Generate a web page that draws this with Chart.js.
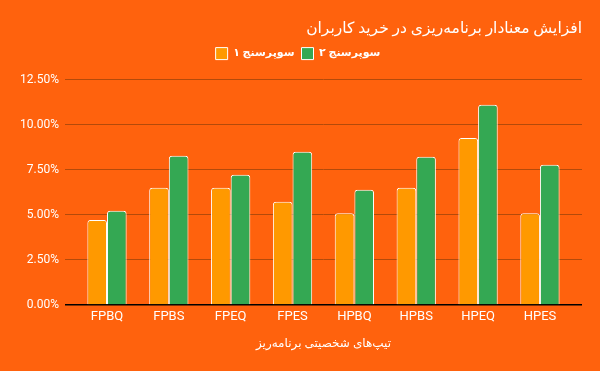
<!DOCTYPE html>
<html>
<head>
<meta charset="utf-8">
<script src="https://cdn.jsdelivr.net/npm/chart.js@4/dist/chart.umd.min.js"></script>
<style>
  html, body { margin: 0; padding: 0; background: #ff620d; }
  #wrap { width: 600px; height: 371px; }
</style>
</head>
<body>
<div id="wrap"><canvas id="chart"></canvas></div>
<script>
/* ── DATA ─────────────────────────────────────────────── */
const categories = ['FPBQ','FPBS','FPEQ','FPES','HPBQ','HPBS','HPEQ','HPES'];
const survey1    = [4.72, 6.50, 6.50, 5.72, 5.09, 6.50, 9.26, 5.09];
const survey2    = [5.22, 8.28, 7.22, 8.50, 6.39, 8.22, 11.11, 7.78];
const seriesNames = ['سوپرسنج ۱', 'سوپرسنج ۲'];
const titleText   = 'افزایش معنادار برنامه‌ریزی در خرید کاربران';
const xTitleText  = 'تیپ‌های شخصیتی برنامه‌ریز';

/* ── STYLE ────────────────────────────────────────────── */
const BG     = '#ff620d';
const GRID   = '#b34a0a';
const FONT   = "Roboto, 'DejaVu Sans', sans-serif";
const COLORS = ['#ff9900', '#34a853'];
const X_PAD  = 0.18;   /* empty room at both ends of the x axis, in categories */

/* category scale with a little slack at both ends (gridlines run past the bars) */
class PaddedCategory extends Chart.CategoryScale {
  buildTicks() {
    const ticks = super.buildTicks();
    this._startValue -= X_PAD;
    this._valueRange += 2 * X_PAD;
    return ticks;
  }
}
PaddedCategory.id = 'paddedCategory';
PaddedCategory.defaults = Chart.CategoryScale.defaults;
Chart.register(PaddedCategory);

const bgPlugin = {
  id: 'bg',
  beforeDraw(c) {
    const ctx = c.ctx;
    ctx.save();
    ctx.fillStyle = BG;
    ctx.fillRect(0, 0, c.width, c.height);
    ctx.restore();
  }
};

/* extra room under the legend, before the plot */
const legendGap = {
  id: 'legendGap',
  afterInit(c) {
    const lg = c.legend;
    if (!lg) return;
    const fit = lg.fit;
    lg.fit = function () { fit.call(this); this.height += 10; };
  }
};

new Chart(document.getElementById('chart'), {
  type: 'bar',
  data: {
    labels: categories,
    datasets: [survey1, survey2].map((d, i) => ({
      label: seriesNames[i],
      data: d,
      backgroundColor: COLORS[i],
      borderColor: '#ffffff',
      borderWidth: 1,
      borderRadius: { topLeft: 3, topRight: 3 },
      borderSkipped: 'bottom',
      barPercentage: 1,
      categoryPercentage: 0.635
    }))
  },
  options: {
    responsive: true,
    maintainAspectRatio: false,
    animation: false,
    layout: { padding: { left: 14, right: 18, top: 6, bottom: 16 } },
    plugins: {
      title: {
        display: true,
        text: titleText,
        align: 'end',
        color: '#ffffff',
        font: { family: FONT, size: 15.5, weight: 'normal' },
        padding: { top: 14, bottom: 2 }
      },
      legend: {
        labels: {
          color: '#ffffff',
          boxWidth: 12,
          boxHeight: 12,
          padding: 7,
          font: { family: FONT, size: 11, weight: 'bold' }
        }
      },
      tooltip: { enabled: false }
    },
    scales: {
      x: {
        type: 'paddedCategory',
        grid: { display: false, drawTicks: false },
        border: { display: false },
        ticks: { color: '#ffffff', font: { family: FONT, size: 13 }, padding: 4 },
        title: {
          display: true,
          text: xTitleText,
          color: '#ffffff',
          font: { family: FONT, size: 12 },
          padding: { top: 8 }
        }
      },
      y: {
        min: 0,
        max: 12.5,
        ticks: {
          stepSize: 2.5,
          color: '#ffffff',
          font: { family: FONT, size: 12 },
          padding: 6,
          callback: v => v.toFixed(2) + '%'
        },
        grid: {
          drawTicks: false,
          color: ctx => ctx.tick && ctx.tick.value === 0 ? '#000000' : GRID,
          lineWidth: ctx => ctx.tick && ctx.tick.value === 0 ? 1.5 : 1
        },
        border: { display: false }
      }
    }
  },
  plugins: [bgPlugin, legendGap]
});
</script>
</body>
</html>
